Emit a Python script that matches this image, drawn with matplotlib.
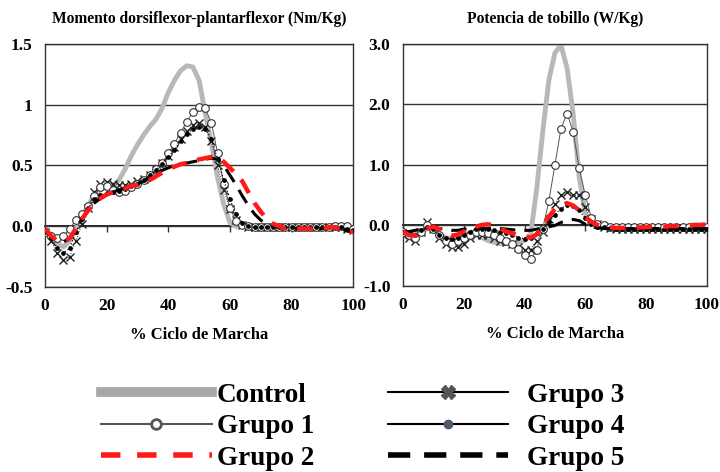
import numpy as np
import matplotlib
matplotlib.use("Agg")
import matplotlib.pyplot as plt
from matplotlib.lines import Line2D

plt.rcParams['font.family'] = ['Liberation Serif', 'DejaVu Serif']
plt.rcParams['font.weight'] = 'bold'

# % ciclo de marcha, cada 2%
ciclo = np.arange(0, 101, 2)
nan = np.nan

# ---- Momento dorsiflexor-plantarflexor (Nm/Kg) ----
mom_control = [-0.02, -0.08, -0.14, -0.17, -0.12, -0.02, 0.08, 0.17, 0.25, 0.30,
               0.32, 0.33, 0.38, 0.47, 0.58, 0.67, 0.75, 0.82, 0.88, 0.97,
               1.10, 1.20, 1.28, 1.32, 1.31, 1.20, 0.93, 0.68, 0.40, 0.18,
               0.03, 0.00] + [nan] * 19
mom_g1 = [-0.05, -0.08, -0.10, -0.08, -0.02, 0.05, 0.10, 0.17, 0.25, 0.32,
          0.33, 0.30, 0.28, 0.29, 0.32, 0.35, 0.38, 0.42, 0.47, 0.52,
          0.60, 0.68, 0.77, 0.86, 0.94, 0.98, 0.97, 0.85, 0.60, 0.35,
          0.15, 0.04, 0.01, 0.00, -0.01, -0.01, -0.01, -0.01, -0.01, -0.01,
          -0.01, -0.01, -0.01, -0.01, -0.01, -0.01, -0.01, 0.00, 0.00, 0.00, -0.02]
mom_g2 = [-0.02, -0.08, -0.12, -0.13, -0.10, -0.02, 0.06, 0.13, 0.19, 0.23,
          0.26, 0.28, 0.30, 0.31, 0.33, 0.34, 0.36, 0.38, 0.41, 0.44,
          0.47, 0.49, 0.51, 0.52, 0.53, 0.55, 0.56, 0.57, 0.57, 0.53,
          0.48, 0.43, 0.37, 0.28, 0.19, 0.12, 0.06, 0.02, 0.00, -0.02,
          -0.02, -0.02, -0.02, -0.02, -0.02, -0.02, -0.01, -0.01, -0.02, -0.04, -0.05]
mom_g3 = [-0.05, -0.12, -0.22, -0.28, -0.25, -0.12, 0.02, 0.15, 0.28, 0.35,
          0.36, 0.35, 0.34, 0.34, 0.35, 0.37, 0.39, 0.42, 0.46, 0.52,
          0.58, 0.65, 0.72, 0.78, 0.83, 0.85, 0.82, 0.70, 0.50, 0.30,
          0.14, 0.05, 0.01, -0.01, -0.01, -0.01, -0.01, -0.01, -0.01, -0.01,
          -0.01, -0.01, -0.01, -0.01, -0.01, -0.01, -0.01, -0.01, -0.01, -0.02, -0.03]
mom_g4 = [-0.05, -0.10, -0.18, -0.22, -0.18, -0.05, 0.06, 0.15, 0.22, 0.26,
          0.27, 0.28, 0.29, 0.31, 0.33, 0.35, 0.38, 0.42, 0.46, 0.51,
          0.57, 0.63, 0.70, 0.76, 0.80, 0.82, 0.80, 0.72, 0.55, 0.38,
          0.22, 0.10, 0.03, 0.00, -0.01, -0.01, -0.01, -0.01, -0.01, -0.01,
          -0.01, -0.01, -0.01, -0.01, -0.01, -0.01, -0.01, -0.01, -0.01, -0.02, -0.03]
mom_g5 = [-0.02, -0.08, -0.12, -0.13, -0.10, -0.02, 0.06, 0.13, 0.19, 0.23,
          0.26, 0.28, 0.30, 0.31, 0.33, 0.35, 0.37, 0.40, 0.43, 0.46,
          0.48, 0.50, 0.51, 0.52, 0.53, 0.54, 0.55, 0.56, 0.55, 0.50,
          0.42, 0.34, 0.25, 0.17, 0.10, 0.05, 0.02, 0.00, -0.01, -0.02,
          -0.02, -0.02, -0.02, -0.02, -0.02, -0.02, -0.01, -0.01, -0.02, -0.04, -0.05]

# ---- Potencia de tobillo (W/Kg) ----
pot_control = [-0.10, -0.15, -0.15, -0.10, -0.05, -0.08, -0.15, -0.20, -0.22, -0.20,
               -0.15, -0.12, -0.15, -0.20, -0.25, -0.28, -0.30, -0.30, -0.30, -0.28,
               -0.25, -0.15, 0.60, 1.55, 2.40, 2.85, 2.98, 2.60, 1.85, 0.80,
               0.20, 0.02] + [nan] * 19
pot_g1 = [-0.10, -0.15, -0.20, -0.10, 0.00, -0.05, -0.15, -0.25, -0.30, -0.25,
          -0.20, -0.15, -0.10, -0.10, -0.12, -0.15, -0.20, -0.25, -0.30, -0.38,
          -0.48, -0.55, -0.40, -0.05, 0.40, 1.00, 1.60, 1.85, 1.55, 0.95,
          0.50, 0.12, 0.02, 0.00, -0.02, -0.03, -0.03, -0.03, -0.03, -0.03,
          -0.03, -0.03, -0.03, -0.03, -0.03, -0.03, -0.03, -0.03, -0.03, -0.03, -0.03]
pot_g2 = [-0.10, -0.16, -0.17, -0.10, -0.05, -0.02, -0.06, -0.12, -0.17, -0.15,
          -0.10, -0.05, -0.02, 0.01, 0.02, 0.00, -0.05, -0.10, -0.13, -0.16,
          -0.18, -0.20, -0.15, 0.00, 0.15, 0.27, 0.33, 0.37, 0.33, 0.25,
          0.14, 0.06, 0.01, -0.02, -0.03, -0.04, -0.04, -0.04, -0.04, -0.03,
          -0.03, -0.02, -0.02, -0.02, -0.01, -0.01, -0.01, 0.00, 0.01, 0.01, 0.02]
pot_g3 = [-0.15, -0.20, -0.25, -0.10, 0.05, -0.05, -0.20, -0.30, -0.35, -0.35,
          -0.30, -0.20, -0.15, -0.15, -0.15, -0.20, -0.25, -0.28, -0.30, -0.35,
          -0.40, -0.40, -0.25, -0.10, 0.10, 0.35, 0.50, 0.55, 0.50, 0.50,
          0.30, 0.10, 0.02, -0.02, -0.04, -0.05, -0.05, -0.05, -0.05, -0.05,
          -0.05, -0.05, -0.05, -0.05, -0.05, -0.05, -0.05, -0.05, -0.05, -0.05, -0.05]
pot_g4 = [-0.10, -0.12, -0.15, -0.08, -0.02, -0.05, -0.15, -0.20, -0.22, -0.20,
          -0.15, -0.10, -0.05, -0.05, -0.05, -0.08, -0.10, -0.12, -0.15, -0.20,
          -0.22, -0.20, -0.12, -0.05, 0.05, 0.18, 0.28, 0.34, 0.33, 0.25,
          0.12, 0.03, -0.02, -0.03, -0.04, -0.05, -0.05, -0.05, -0.05, -0.05,
          -0.05, -0.05, -0.05, -0.05, -0.05, -0.05, -0.05, -0.05, -0.05, -0.05, -0.05]
pot_g5 = [-0.10, -0.10, -0.08, -0.05, -0.05, -0.05, -0.05, -0.06, -0.08, -0.08,
          -0.06, -0.05, -0.05, -0.05, -0.05, -0.05, -0.05, -0.06, -0.07, -0.08,
          -0.08, -0.08, -0.06, -0.04, -0.02, 0.00, 0.05, 0.08, 0.10, 0.08,
          0.02, -0.02, -0.04, -0.05, -0.05, -0.05, -0.05, -0.05, -0.05, -0.05,
          -0.05, -0.05, -0.05, -0.05, -0.05, -0.05, -0.05, -0.05, -0.05, -0.05, -0.05]

nombres = ['Control', 'Grupo 1', 'Grupo 2', 'Grupo 3', 'Grupo 4', 'Grupo 5']
estilos = [
    dict(color='#b8b8b8', lw=3.5, zorder=2),
    dict(color='#555555', lw=0.7, marker='o', ms=5.5, mfc='white', mec='#333333', mew=0.8, zorder=4),
    dict(color='#ff1a1a', lw=3.2, dashes=(3.5, 2.5), zorder=6),
    dict(color='#222222', lw=0.7, ls=':', marker='x', ms=5.5, mec='#222222', mew=1.0, zorder=3),
    dict(color='#111111', lw=0.9, ls=':', marker='o', ms=2.4, mfc='black', mec='black', zorder=5),
    dict(color='black', lw=2.2, dashes=(5, 3), zorder=5),
]

fig = plt.figure(figsize=(7.2, 4.72), dpi=100)
ax1 = fig.add_axes([0.0625, 0.392, 0.428, 0.515])
ax2 = fig.add_axes([0.5597, 0.394, 0.422, 0.513])

paneles = [
    (ax1, [mom_control, mom_g1, mom_g2, mom_g3, mom_g4, mom_g5],
     'Momento dorsiflexor-plantarflexor (Nm/Kg)', (-0.5, 1.5),
     [-0.5, 0, 0.5, 1, 1.5], ['-0.5', '0.0', '0.5', '1', '1.5']),
    (ax2, [pot_control, pot_g1, pot_g2, pot_g3, pot_g4, pot_g5],
     'Potencia de tobillo (W/Kg)', (-1, 3),
     [-1, 0, 1, 2, 3], ['-1.0', '0.0', '1.0', '2.0', '3.0']),
]

for ax, series, titulo, ylim, yt, ytl in paneles:
    for serie, st in zip(series, estilos):
        ax.plot(ciclo, serie, **st)
    ax.set_xlim(0, 100)
    ax.set_ylim(*ylim)
    ax.set_yticks(yt)
    ax.set_yticklabels(ytl)
    ax.set_xticks([0, 20, 40, 60, 80, 100])
    ax.tick_params(axis='y', length=0, pad=9, labelsize=12.5)
    ax.tick_params(axis='x', length=0, pad=8, labelsize=12.5)
    for s in ax.spines.values():
        s.set_color('#333333')
        s.set_linewidth(1.0)
    ax.yaxis.grid(True, color='#333333', lw=1.0)
    ax.set_axisbelow(True)
    ax.set_xlabel('% Ciclo de Marcha', fontsize=12, fontweight='bold', labelpad=9)
    ax.set_title(titulo, fontsize=11.2, fontweight='bold', pad=15)
    # eje cero con marcas
    cero = ax.secondary_xaxis(0, transform=ax.transData)
    cero.set_xticks([0, 20, 40, 60, 80, 100])
    cero.tick_params(direction='out', length=4, width=1, color='#333333', labelbottom=False)
    cero.spines['bottom'].set_color('black')
    cero.spines['bottom'].set_linewidth(1.2)

# leyenda (dos columnas)
handles = [
    Line2D([], [], color='#a8a8a8', lw=7),
    Line2D([], [], color='#555555', lw=1.5, marker='o', ms=7, mfc='white', mec='#555555', mew=2),
    Line2D([], [], color='#ff1a1a', lw=4, dashes=(3.5, 3)),
    Line2D([], [], color='black', lw=1.5, marker='X', ms=10, mfc='#555555', mec='#555555'),
    Line2D([], [], color='black', lw=1.5, marker='o', ms=6, mfc='#505a68', mec='#505a68'),
    Line2D([], [], color='black', lw=4, dashes=(4, 2.5)),
]
fuente = dict(family='Liberation Serif', weight='bold', size=19.5)
fig.legend(handles[:3], nombres[:3], loc='center left', bbox_to_anchor=(0.14, 0.096),
           frameon=False, prop=fuente, borderpad=0, borderaxespad=0,
           handlelength=4.1, handletextpad=0.18, labelspacing=0.24)
fig.legend(handles[3:], nombres[3:], loc='center left', bbox_to_anchor=(0.539, 0.096),
           frameon=False, prop=fuente, borderpad=0, borderaxespad=0,
           handlelength=4.43, handletextpad=0.7, labelspacing=0.24)

fig.savefig('out.png', dpi=100)
